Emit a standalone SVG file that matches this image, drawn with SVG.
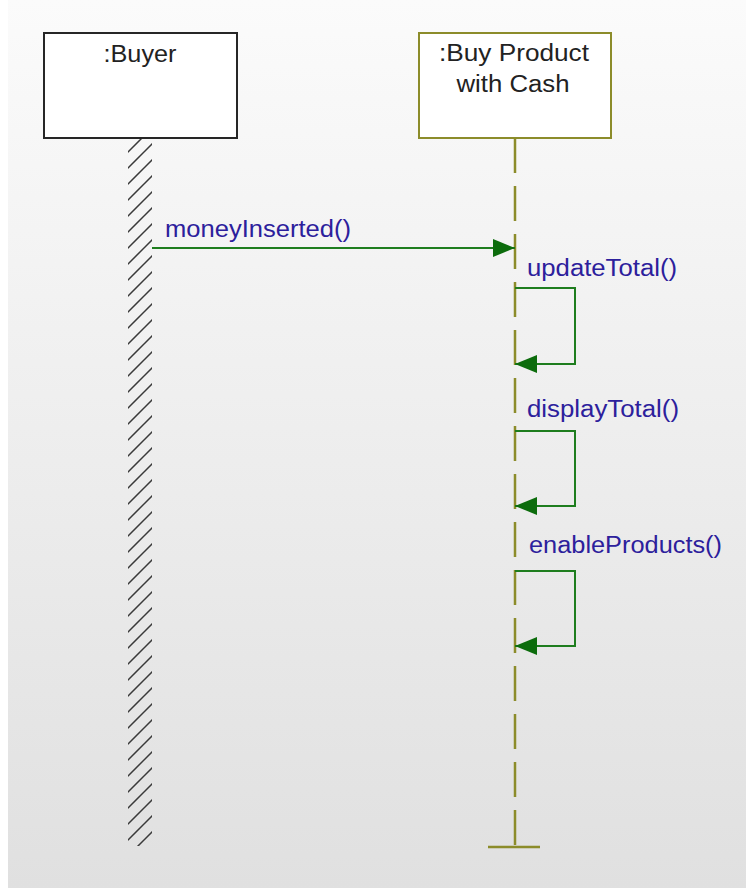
<svg xmlns="http://www.w3.org/2000/svg" width="746" height="888" viewBox="0 0 746 888">
  <defs>
    <linearGradient id="bg" x1="0" y1="0" x2="0" y2="1">
      <stop offset="0" stop-color="#fbfbfb"/>
      <stop offset="1" stop-color="#e0e0e0"/>
    </linearGradient>
    <!-- diagonal hatching for the actor lifeline -->
    <pattern id="hatch" patternUnits="userSpaceOnUse" width="16" height="16">
      <line x1="-1" y1="9" x2="9" y2="-1"/>
      <line x1="7" y1="17" x2="17" y2="7"/>
    </pattern>
    <marker id="arrow" markerUnits="userSpaceOnUse" markerWidth="23" markerHeight="19" refX="22" refY="9" orient="auto">
      <path d="M0,0 L22,9 L0,18 Z" fill="#0c6c0c"/>
    </marker>
  </defs>
  <style>
    #hatch line { stroke: #3a3a3a; stroke-width: 1.5; stroke-linecap: round; }
    .obj-text { font-family: "Liberation Sans", Arial, sans-serif; font-size: 23px; fill: #222; text-anchor: middle; }
    .msg-text { font-family: "Liberation Sans", Arial, sans-serif; font-size: 23px; fill: #2c209c; }
    .lifeline { stroke: #8c8c2a; stroke-width: 2.5; fill: none; }
    .msg { stroke: #1e7d1e; stroke-width: 2; fill: none; marker-end: url(#arrow); }
  </style>

  <!-- canvas -->
  <rect x="0" y="0" width="746" height="888" fill="#ffffff"/>
  <rect x="8" y="0" width="738" height="888" fill="url(#bg)"/>

  <!-- actor object with hatched lifeline -->
  <g id="buyer">
    <rect x="128" y="139" width="24" height="707" fill="url(#hatch)"/>
    <rect x="44" y="33" width="193" height="105" fill="#ffffff" stroke="#262626" stroke-width="2"/>
    <text class="obj-text" x="140" y="61.5" textLength="73" lengthAdjust="spacingAndGlyphs">:Buyer</text>
  </g>

  <!-- control object with dashed lifeline -->
  <g id="buy-product-with-cash">
    <line class="lifeline" x1="515" y1="138" x2="515" y2="847" stroke-dasharray="35 13"/>
    <line class="lifeline" x1="488" y1="847" x2="540" y2="847"/>
    <rect x="419" y="33" width="192" height="105" fill="#ffffff" stroke="#8c8c2a" stroke-width="2"/>
    <text class="obj-text" x="514" y="61" textLength="150" lengthAdjust="spacingAndGlyphs">:Buy Product</text>
    <text class="obj-text" x="513" y="92" textLength="113" lengthAdjust="spacingAndGlyphs">with Cash</text>
  </g>

  <!-- messages -->
  <g id="messages">
    <line class="msg" x1="152" y1="248" x2="515" y2="248"/>
    <text class="msg-text" x="165" y="237" textLength="186" lengthAdjust="spacingAndGlyphs">moneyInserted()</text>

    <path class="msg" d="M515,288 H575 V364 H515"/>
    <text class="msg-text" x="527" y="276" textLength="150" lengthAdjust="spacingAndGlyphs">updateTotal()</text>

    <path class="msg" d="M515,431 H575 V506 H515"/>
    <text class="msg-text" x="527" y="417" textLength="152" lengthAdjust="spacingAndGlyphs">displayTotal()</text>

    <path class="msg" d="M515,571 H575 V646 H515"/>
    <text class="msg-text" x="529" y="553" textLength="193" lengthAdjust="spacingAndGlyphs">enableProducts()</text>
  </g>
</svg>
